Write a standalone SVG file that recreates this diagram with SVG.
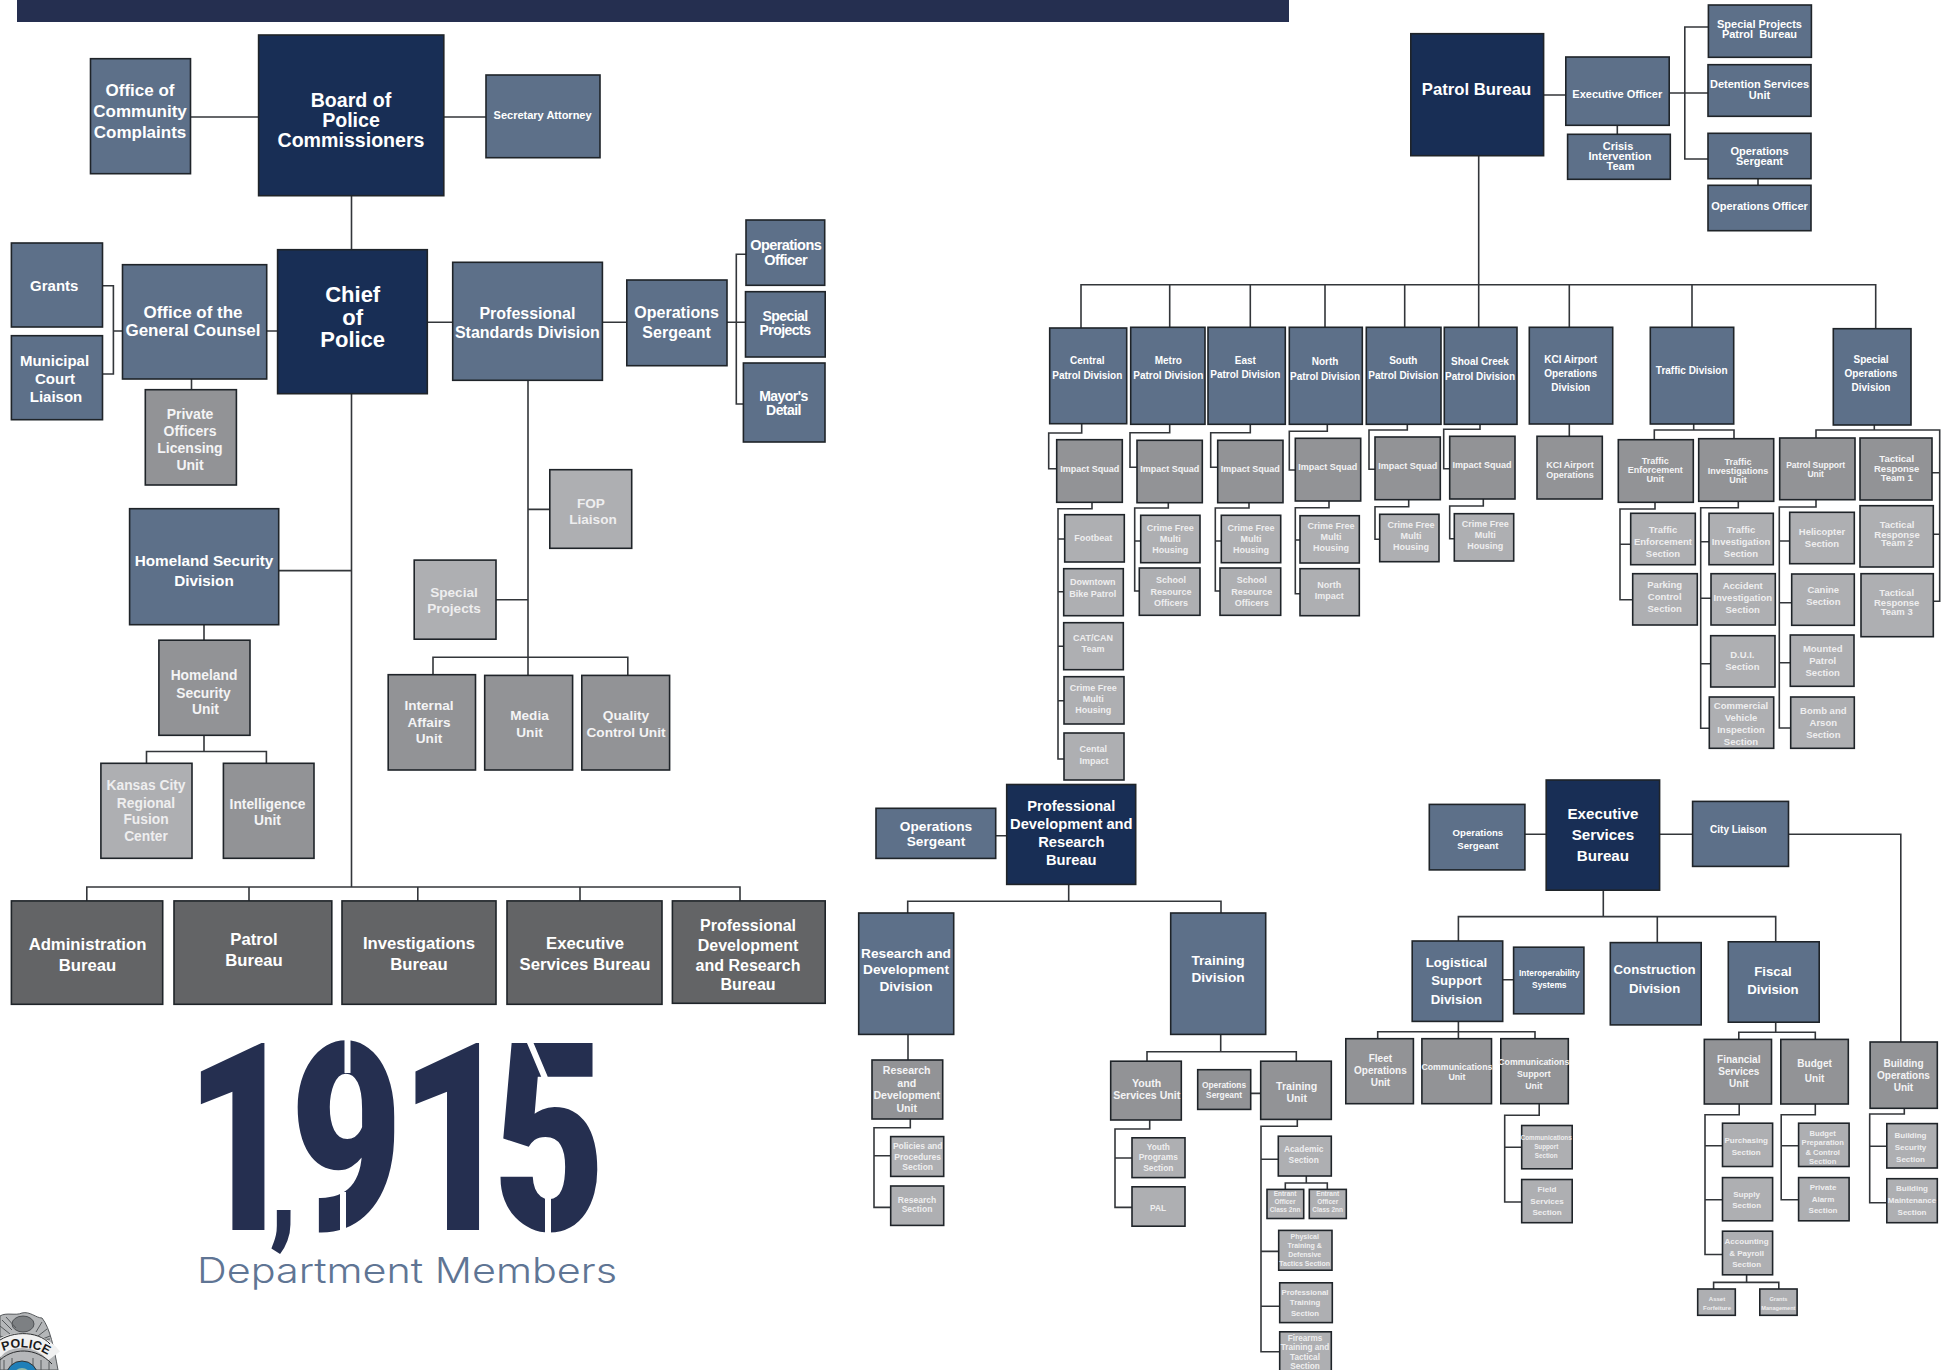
<svg xmlns="http://www.w3.org/2000/svg" width="1949" height="1370" viewBox="0 0 1949 1370">
<style>
rect{stroke:#1f2429;stroke-width:1.6}
.d{fill:#182e55}.m{fill:#5d7089}.g{fill:#929396}.l{fill:#aeafb2}.k{fill:#636466}
text{font-family:"Liberation Sans",Arial,sans-serif;font-weight:700;text-anchor:middle;fill:#fff}
.l+text{fill:#eeeeef}
.g+text{fill:#f4f4f5}
.tall{letter-spacing:-.55px}
#connectors path{fill:none;stroke:#33363a;stroke-width:1.6}
</style>
<rect x="17" y="0" width="1272" height="22" style="fill:#252f50;stroke:none"/>
<g id="connectors">
<path d="M190 117H259M444 117H486M351.5 196V250M351.5 394V887M86.8 901V887H740V901M249 887V901M417.8 887V901M580 887V901M279 570.6H351.5M204 625V640M204 735V751.5M146.5 763V751.5H266.4V763"/>
<path d="M267 331H278M427 322.3H453M602 322.3H627M727 322.3H745M746 254.3H736.3V404H743M102.5 285.7H113.4V374H102.5M113.4 331H122.5M191.5 379V390M528 380V675M528 509.4H550M496 599.7H528M433 675V657.2H627.8V675"/>
<path d="M1543.6 95H1566M1617.3 125V134.3M1669 93H1708M1708 27H1684.8V159H1708M1758 179V185.3M1478.7 156V328M1081 328V284.8H1875.7V329M1169.7 284.8V327M1250.3 284.8V327M1325 284.8V327M1404.7 284.8V327M1569.3 284.8V327M1692 284.8V327"/>
<path d="M1081.7 424V433H1048.7V468.7H1056.7M1169.7 424V432.7H1130V467.3H1137M1250.3 424V432.7H1210.7V467.3H1217.7M1327.3 424V431.3H1289.3V470H1295M1407.3 424V430H1369V469.3H1375M1480 424V429.3H1443.7V468.7H1449.7"/>
<path d="M1092 502V508.7H1058V759H1064M1058 539H1064.7M1058 591.7H1063.7M1058 646.3H1063.7M1058 700.7H1064"/>
<path d="M1168.3 503V508H1134.7V591H1139.3M1134.7 541H1140.7M1249 503V508H1215.3V591H1220M1215.3 541H1221.3M1329 501V507.7H1295.3V593.7H1300M1295.3 540H1300M1408.7 500V506.7H1375V539.3H1379.7M1483.3 499V506H1449.7V538.7H1454.3"/>
<path d="M1569.3 424V436.3M1693.7 424V430M1654.3 439.7V430H1734V438.7M1874.3 425V430M1816 438V430H1939.7V601.3H1933M1939.7 472.7H1932M1939.7 534.3H1933"/>
<path d="M1655 502V509H1620V599.7H1632.7M1620 544.3H1630.7M1738.3 501V507.7H1700.7V728.3H1709.3M1700.7 541.7H1709M1700.7 598.3H1711M1700.7 663.7H1710.7M1816 500V507H1779.3V728H1790.7M1779.3 541H1789.7M1779.3 602.7H1791.7M1779.3 662.7H1790.3"/>
<path d="M995.7 835.8H1006.7M1068.7 884V901.3M907.7 913V901.3H1221V913M908 1034V1060M910.3 1119V1127.8H874V1207.4H890.7M874 1155.8H890.7M1220.7 1034V1051.7M1147 1061.2V1051.7H1296.3V1061.2M1250.7 1093.4H1260.7M1149.7 1120V1129H1115V1207.4H1132M1115 1158H1132M1297.3 1119V1126.3H1261V1351.7H1279.7M1261 1159.2H1278.3M1261 1251.4H1278.7M1261 1306.2H1279.7M1306.3 1176V1183M1285.3 1189.4V1183H1327.3V1189.4"/>
<path d="M1525 834.3H1546M1660 834.3H1692.6M1788.5 834.3H1900.8V1042M1603.3 890V916.6M1458.4 941V916.6H1775.7V941.8M1657.3 916.6V942.6M1502.7 979.7H1513.6M1458.4 1021.4V1039M1377.7 1039V1031.8H1535V1039M1539.2 1104V1115.2H1504.7V1202H1521.7M1504.7 1147.3H1521.7"/>
<path d="M1775.7 1022V1032.2M1738.8 1039.4V1032.2H1815.3V1039.4M1739.2 1104V1114.8H1705V1254.5H1722.5M1705 1145.8H1722.5M1705 1199.8H1722.5M1815.3 1104V1114.8H1781.2V1199.8H1798.6M1781.2 1145.8H1798.6M1904.3 1108.3V1114H1869.7V1202.8H1886.8M1869.7 1146.2H1886.8M1746.6 1275V1282.4M1713.6 1289V1282.4H1778.8V1289"/>
</g>
<g id="board"><rect class="d" x="258.6" y="35" width="185.2" height="160.7"/><text font-size="19.6"><tspan x="351" y="107">Board of</tspan><tspan x="351" y="127.3">Police</tspan><tspan x="351" y="147.3">Commissioners</tspan></text></g>
<g id="occ"><rect class="m" x="90.5" y="58.7" width="100" height="115"/><text font-size="17"><tspan x="140" y="96">Office of</tspan><tspan x="140" y="117">Community</tspan><tspan x="140" y="138">Complaints</tspan></text></g>
<g id="secretary"><rect class="m" x="486" y="75" width="114" height="82.7"/><text font-size="11" x="542.6" y="119">Secretary Attorney</text></g>
<g id="chief"><rect class="d" x="277.6" y="249.7" width="149.7" height="144"/><text font-size="22"><tspan x="352.7" y="302">Chief</tspan><tspan x="352.7" y="324.5">of</tspan><tspan x="352.7" y="347">Police</tspan></text></g>
<g id="grants"><rect class="m" x="11.4" y="243" width="91.1" height="84"/><text font-size="15" x="54.3" y="290.5">Grants</text></g>
<g id="municipal"><rect class="m" x="11.4" y="335.7" width="91.1" height="84"/><text font-size="15"><tspan x="54.5" y="365.5">Municipal</tspan><tspan x="55" y="383.5">Court</tspan><tspan x="56" y="402">Liaison</tspan></text></g>
<g id="ogc"><rect class="m" x="122.5" y="264.7" width="144.2" height="114.3"/><text font-size="17"><tspan x="193" y="317.5">Office of the</tspan><tspan x="193" y="335.5">General Counsel</tspan></text></g>
<g id="private"><rect class="g" x="145.3" y="389.7" width="91.1" height="95.3"/><text font-size="14"><tspan x="190" y="418.5">Private</tspan><tspan x="190" y="435.5">Officers</tspan><tspan x="190" y="452.5">Licensing</tspan><tspan x="190" y="469.5">Unit</tspan></text></g>
<g id="psd"><rect class="m" x="452.7" y="262.3" width="149.7" height="118"/><text font-size="16"><tspan x="527.4" y="319.3">Professional</tspan><tspan x="527.4" y="338.3">Standards Division</tspan></text></g>
<g id="ops-sgt"><rect class="m" x="626.8" y="280" width="100.2" height="85.7"/><text font-size="16"><tspan x="676.6" y="318.3">Operations</tspan><tspan x="676.6" y="338.3">Sergeant</tspan></text></g>
<g id="ops-off"><rect class="m" x="746" y="220" width="78.7" height="65.3"/><text class="tall" font-size="14.5"><tspan x="785.7" y="250.3">Operations</tspan><tspan x="785.7" y="264.7">Officer</tspan></text></g>
<g id="spec-proj"><rect class="m" x="745.5" y="291.7" width="79.7" height="65.3"/><text class="tall" font-size="14"><tspan x="785" y="321">Special</tspan><tspan x="785" y="335.3">Projects</tspan></text></g>
<g id="mayor"><rect class="m" x="743.4" y="363" width="81.6" height="79"/><text class="tall" font-size="14"><tspan x="783.5" y="400.5">Mayor's</tspan><tspan x="783.5" y="414.5">Detail</tspan></text></g>
<g id="fop"><rect class="l" x="549.8" y="469.7" width="81.9" height="78.6"/><text font-size="13.6"><tspan x="590.9" y="507.9">FOP</tspan><tspan x="593" y="524.1">Liaison</tspan></text></g>
<g id="hsd"><rect class="m" x="129.6" y="508.7" width="149.1" height="116"/><text font-size="15.3"><tspan x="204" y="566">Homeland Security</tspan><tspan x="204" y="586.3">Division</tspan></text></g>
<g id="hsu"><rect class="g" x="158.9" y="640.2" width="91.1" height="95.1"/><text font-size="13.8"><tspan x="204" y="680.3">Homeland</tspan><tspan x="203.5" y="697.6">Security</tspan><tspan x="205.5" y="714.3">Unit</tspan></text></g>
<g id="kc"><rect class="l" x="100.9" y="763.3" width="91.1" height="95"/><text font-size="13.8"><tspan x="146" y="790.3">Kansas City</tspan><tspan x="146" y="807.6">Regional</tspan><tspan x="146" y="824.3">Fusion</tspan><tspan x="146" y="841">Center</tspan></text></g>
<g id="intel"><rect class="g" x="223.4" y="763.3" width="90.6" height="95"/><text font-size="13.8"><tspan x="267.5" y="808.6">Intelligence</tspan><tspan x="267.5" y="825.3">Unit</tspan></text></g>
<g id="sp-gray"><rect class="l" x="414.2" y="560.1" width="81.8" height="79.1"/><text font-size="13.6"><tspan x="454" y="596.6">Special</tspan><tspan x="454" y="613.4">Projects</tspan></text></g>
<g id="internal"><rect class="g" x="388.2" y="674.7" width="87.3" height="95.3"/><text font-size="13.6"><tspan x="429" y="710.2">Internal</tspan><tspan x="429" y="726.5">Affairs</tspan><tspan x="429" y="743.2">Unit</tspan></text></g>
<g id="media"><rect class="g" x="484.7" y="675.4" width="87.9" height="94.6"/><text font-size="13.6"><tspan x="529.5" y="720.4">Media</tspan><tspan x="529.5" y="737.1">Unit</tspan></text></g>
<g id="quality"><rect class="g" x="581.8" y="675.4" width="87.8" height="94.6"/><text font-size="13.7"><tspan x="626" y="720.4">Quality</tspan><tspan x="626" y="737.1">Control Unit</tspan></text></g>
<g id="b-admin"><rect class="k" x="11.4" y="900.9" width="151.3" height="103.4"/><text font-size="16.7"><tspan x="87.5" y="949.6">Administration</tspan><tspan x="87.5" y="970.5">Bureau</tspan></text></g>
<g id="b-patrol"><rect class="k" x="174" y="900.9" width="157.8" height="103.4"/><text font-size="16.7"><tspan x="254" y="944.5">Patrol</tspan><tspan x="254" y="965.5">Bureau</tspan></text></g>
<g id="b-invest"><rect class="k" x="342" y="900.9" width="154" height="103.4"/><text font-size="16.7"><tspan x="419" y="948.6">Investigations</tspan><tspan x="419" y="969.6">Bureau</tspan></text></g>
<g id="b-exec"><rect class="k" x="507" y="900.9" width="155" height="103.4"/><text font-size="16.7"><tspan x="585" y="948.6">Executive</tspan><tspan x="585" y="969.6">Services Bureau</tspan></text></g>
<g id="b-pdr"><rect class="k" x="672.4" y="900.9" width="152.8" height="102.4"/><text font-size="16"><tspan x="748" y="931.3">Professional</tspan><tspan x="748" y="950.6">Development</tspan><tspan x="748" y="970.9">and Research</tspan><tspan x="748" y="990.3">Bureau</tspan></text></g>

<g id="members">
<text id="count" transform="scale(.74 1)" font-size="263" style="font-family:Roboto,'Liberation Sans',sans-serif;font-weight:900;fill:#252f50;text-anchor:start"><tspan x="250" y="1230">1</tspan><tspan x="364" y="1227" font-size="140">,</tspan><tspan x="392" y="1230">9</tspan><tspan x="540" y="1230">1</tspan><tspan x="666" y="1230">5</tspan></text>
<path d="M347.5 1035V1073M343 1192V1236M548 1192V1236M529 1040L545 1078" fill="none" stroke="#fff" stroke-width="6"/>
<text font-size="35" x="197" y="1282.7" textLength="420" lengthAdjust="spacingAndGlyphs" style="font-family:Inter,'Open Sans',sans-serif;font-weight:300;text-anchor:start;fill:#5f7594">Department Members</text>
</g>
<g id="badge">
<path d="M0 1316C6 1312 16 1316 22 1313C30 1311 36 1318 42 1318C50 1328 54 1348 58 1370H0Z" fill="#b5b7b9" stroke="#55585b" stroke-width="1"/>
<ellipse cx="23" cy="1324" rx="11" ry="8" fill="#7d8083" stroke="#3c3f42" stroke-width=".8"/>
<path d="M2 1320L12 1330M6 1317L16 1328M0 1326L10 1334M42 1322L36 1332M47 1329L38 1336M50 1336L40 1340M0 1336C10 1341 34 1341 50 1339M4 1360V1370M12 1358V1370M33 1358V1370M41 1360V1370M49 1362V1370" fill="none" stroke="#55585b" stroke-width="1"/>
<path d="M-6 1353C6 1337 38 1335 54 1356" fill="none" stroke="#f1f1f1" stroke-width="15"/>
<path d="M-6 1345C8 1330 38 1330 50 1344M-2 1362C12 1347 36 1347 52 1364" fill="none" stroke="#2a2c2e" stroke-width="1"/>
<path id="badge-arc" d="M-6 1357C8 1344 38 1343 56 1362" fill="none"/>
<text font-size="12.5" style="fill:#1a1a1a"><textPath href="#badge-arc" startOffset="50%">POLICE</textPath></text>
<circle cx="22" cy="1377" r="16" fill="#1f7fb8" stroke="#333" stroke-width="1"/>
<circle cx="22" cy="1377" r="9" fill="#8fb7a5"/>
</g>

<g id="patrol-bureau"><rect class="d" x="1410.8" y="33.7" width="132.8" height="122"/><text font-size="16.7" x="1476.5" y="95">Patrol Bureau</text></g>
<g id="pb-eo"><rect class="m" x="1565.8" y="57" width="103.4" height="68.3"/><text font-size="11" x="1617.3" y="98.3">Executive Officer</text></g>
<g id="pb-cit"><rect class="m" x="1567.6" y="134.3" width="102.7" height="45"/><text font-size="11"><tspan x="1618" y="150.3">Crisis</tspan><tspan x="1620" y="160.3">Intervention</tspan><tspan x="1620.5" y="170.3">Team</tspan></text></g>
<g id="pb-sp"><rect class="m" x="1708.4" y="5" width="103" height="52.3"/><text font-size="11"><tspan x="1759.5" y="28.3">Special Projects</tspan><tspan x="1759.5" y="38.3">Patrol&#160; Bureau</tspan></text></g>
<g id="pb-det"><rect class="m" x="1708" y="64.7" width="103" height="51.6"/><text font-size="11"><tspan x="1759.5" y="88.3">Detention Services</tspan><tspan x="1759.5" y="99.3">Unit</tspan></text></g>
<g id="pb-os"><rect class="m" x="1708" y="133.3" width="103" height="45.4"/><text font-size="11"><tspan x="1759.5" y="154.7">Operations</tspan><tspan x="1759.5" y="165.3">Sergeant</tspan></text></g>
<g id="pb-oo"><rect class="m" x="1708" y="185.3" width="103" height="45.4"/><text font-size="11" x="1759.5" y="210.3">Operations Officer</text></g>

<g id="d-central"><rect class="m" x="1049.7" y="328" width="77" height="95.7"/><text font-size="10"><tspan x="1087.3" y="363.5">Central</tspan><tspan x="1087.3" y="378.5">Patrol Division</tspan></text></g>
<g id="d-metro"><rect class="m" x="1130.7" y="327.3" width="74.3" height="97"/><text font-size="10"><tspan x="1168.3" y="364">Metro</tspan><tspan x="1168.3" y="378.5">Patrol Division</tspan></text></g>
<g id="d-east"><rect class="m" x="1208" y="327.3" width="77.3" height="97"/><text font-size="10"><tspan x="1245.3" y="363.5">East</tspan><tspan x="1245.3" y="377.5">Patrol Division</tspan></text></g>
<g id="d-north"><rect class="m" x="1289.3" y="327.3" width="73" height="97"/><text font-size="10"><tspan x="1325" y="365">North</tspan><tspan x="1325" y="379.5">Patrol Division</tspan></text></g>
<g id="d-south"><rect class="m" x="1366.3" y="327.3" width="74.7" height="97"/><text font-size="10"><tspan x="1403.3" y="364">South</tspan><tspan x="1403.3" y="378.5">Patrol Division</tspan></text></g>
<g id="d-shoal"><rect class="m" x="1444.3" y="327.3" width="72.7" height="97"/><text font-size="10"><tspan x="1480" y="365">Shoal Creek</tspan><tspan x="1480" y="379.5">Patrol Division</tspan></text></g>
<g id="d-kci"><rect class="m" x="1529.3" y="327.3" width="83.4" height="96.7"/><text font-size="10"><tspan x="1570.7" y="362.5">KCI Airport</tspan><tspan x="1570.7" y="376.5">Operations</tspan><tspan x="1570.7" y="390.5">Division</tspan></text></g>
<g id="d-traffic"><rect class="m" x="1650.3" y="327.3" width="83.4" height="96.7"/><text font-size="10" x="1691.7" y="373.5">Traffic Division</text></g>
<g id="d-specops"><rect class="m" x="1833.3" y="328.7" width="77.7" height="96.3"/><text font-size="10"><tspan x="1871" y="362.5">Special</tspan><tspan x="1871" y="376.5">Operations</tspan><tspan x="1871" y="390.5">Division</tspan></text></g>

<g id="is-central"><rect class="g" x="1056.7" y="439.7" width="65.6" height="62.6"/><text font-size="9" x="1089.7" y="472">Impact Squad</text></g>
<g id="is-metro"><rect class="g" x="1137" y="440.3" width="65.3" height="62.4"/><text font-size="9" x="1169.7" y="472">Impact Squad</text></g>
<g id="is-east"><rect class="g" x="1217.7" y="440.3" width="65.3" height="62.4"/><text font-size="9" x="1250.3" y="472">Impact Squad</text></g>
<g id="is-north"><rect class="g" x="1295.3" y="438.3" width="65.4" height="62.7"/><text font-size="9" x="1327.7" y="470">Impact Squad</text></g>
<g id="is-south"><rect class="g" x="1375" y="437" width="65.3" height="62.7"/><text font-size="9" x="1407.7" y="469">Impact Squad</text></g>
<g id="is-shoal"><rect class="g" x="1449.7" y="436.3" width="65.3" height="62.7"/><text font-size="9" x="1482" y="468">Impact Squad</text></g>

<g id="c-foot"><rect class="l" x="1064.7" y="514.7" width="59.6" height="47.3"/><text font-size="9" x="1093.3" y="541">Footbeat</text></g>
<g id="c-bike"><rect class="l" x="1063.7" y="568.7" width="59.6" height="47"/><text font-size="9"><tspan x="1092.7" y="585">Downtown</tspan><tspan x="1092.7" y="597">Bike Patrol</tspan></text></g>
<g id="c-cat"><rect class="l" x="1063.7" y="622.7" width="59.6" height="47"/><text font-size="9"><tspan x="1093" y="641">CAT/CAN</tspan><tspan x="1093" y="652">Team</tspan></text></g>
<g id="c-cf"><rect class="l" x="1064" y="676.7" width="60" height="47.3"/><text font-size="9"><tspan x="1093.3" y="691">Crime Free</tspan><tspan x="1093.3" y="702">Multi</tspan><tspan x="1093.3" y="713">Housing</tspan></text></g>
<g id="c-imp"><rect class="l" x="1064" y="733" width="60" height="47"/><text font-size="9"><tspan x="1093.3" y="752">Cental</tspan><tspan x="1094" y="764">Impact</tspan></text></g>
<g id="m-cf"><rect class="l" x="1140.7" y="515.3" width="59.3" height="47.4"/><text font-size="9"><tspan x="1170.3" y="531">Crime Free</tspan><tspan x="1170.3" y="542">Multi</tspan><tspan x="1170.3" y="553">Housing</tspan></text></g>
<g id="m-sch"><rect class="l" x="1139.3" y="568" width="60.7" height="47.3"/><text font-size="9"><tspan x="1171" y="583">School</tspan><tspan x="1171" y="595">Resource</tspan><tspan x="1171" y="606">Officers</tspan></text></g>
<g id="e-cf"><rect class="l" x="1221.3" y="515.3" width="59.4" height="47.4"/><text font-size="9"><tspan x="1251" y="531">Crime Free</tspan><tspan x="1251" y="542">Multi</tspan><tspan x="1251" y="553">Housing</tspan></text></g>
<g id="e-sch"><rect class="l" x="1220" y="568" width="60.7" height="47.3"/><text font-size="9"><tspan x="1251.7" y="583">School</tspan><tspan x="1251.7" y="595">Resource</tspan><tspan x="1251.7" y="606">Officers</tspan></text></g>
<g id="n-cf"><rect class="l" x="1300" y="515.7" width="59.3" height="47.3"/><text font-size="9"><tspan x="1331" y="529">Crime Free</tspan><tspan x="1331" y="540">Multi</tspan><tspan x="1331" y="551">Housing</tspan></text></g>
<g id="n-imp"><rect class="l" x="1300" y="568.7" width="59.3" height="47"/><text font-size="9"><tspan x="1329.3" y="588">North</tspan><tspan x="1329.3" y="599">Impact</tspan></text></g>
<g id="s-cf"><rect class="l" x="1379.7" y="514.3" width="59.3" height="47.4"/><text font-size="9"><tspan x="1411" y="528">Crime Free</tspan><tspan x="1411" y="539">Multi</tspan><tspan x="1411" y="550">Housing</tspan></text></g>
<g id="sc-cf"><rect class="l" x="1454.3" y="513.7" width="59.4" height="47.3"/><text font-size="9"><tspan x="1485.3" y="527">Crime Free</tspan><tspan x="1485.3" y="538">Multi</tspan><tspan x="1485.3" y="549">Housing</tspan></text></g>

<g id="kci-ops"><rect class="g" x="1537" y="436.3" width="65.3" height="62.7"/><text font-size="9"><tspan x="1570" y="468">KCI Airport</tspan><tspan x="1570" y="478">Operations</tspan></text></g>
<g id="teu"><rect class="g" x="1618.3" y="439.7" width="75" height="62.6"/><text font-size="9"><tspan x="1655.3" y="464">Traffic</tspan><tspan x="1655.3" y="473">Enforcement</tspan><tspan x="1655.3" y="482">Unit</tspan></text></g>
<g id="tiu"><rect class="g" x="1698.7" y="438.7" width="75" height="62.6"/><text font-size="9"><tspan x="1738" y="465">Traffic</tspan><tspan x="1738" y="474">Investigations</tspan><tspan x="1738" y="483">Unit</tspan></text></g>
<g id="psu"><rect class="g" x="1779.7" y="438" width="75.3" height="61.7"/><text font-size="8.5"><tspan x="1815.7" y="468">Patrol Support</tspan><tspan x="1815.7" y="477">Unit</tspan></text></g>
<g id="trt1"><rect class="g" x="1860" y="438" width="72" height="62"/><text font-size="9.5"><tspan x="1896.7" y="462">Tactical</tspan><tspan x="1896.7" y="472">Response</tspan><tspan x="1896.7" y="481">Team 1</tspan></text></g>
<g id="trt2"><rect class="l" x="1860" y="505.7" width="73.3" height="61.3"/><text font-size="9.5"><tspan x="1897" y="528">Tactical</tspan><tspan x="1897" y="537.5">Response</tspan><tspan x="1897" y="546">Team 2</tspan></text></g>
<g id="trt3"><rect class="l" x="1861" y="573.7" width="72.3" height="63"/><text font-size="9.5"><tspan x="1896.7" y="596">Tactical</tspan><tspan x="1896.7" y="605.5">Response</tspan><tspan x="1896.7" y="615">Team 3</tspan></text></g>
<g id="te-sec"><rect class="l" x="1630.7" y="513.3" width="64.6" height="51.4"/><text font-size="9.5"><tspan x="1663" y="533">Traffic</tspan><tspan x="1663" y="545">Enforcement</tspan><tspan x="1663" y="557">Section</tspan></text></g>
<g id="parking"><rect class="l" x="1632.7" y="573.7" width="64.6" height="51.3"/><text font-size="9.5"><tspan x="1664.7" y="588">Parking</tspan><tspan x="1664.7" y="600">Control</tspan><tspan x="1664.7" y="612">Section</tspan></text></g>
<g id="ti-sec"><rect class="l" x="1709" y="513.3" width="64.3" height="51.4"/><text font-size="9.5"><tspan x="1741" y="533">Traffic</tspan><tspan x="1741" y="545">Investigation</tspan><tspan x="1741" y="557">Section</tspan></text></g>
<g id="accident"><rect class="l" x="1711" y="573.7" width="64.3" height="51.3"/><text font-size="9.5"><tspan x="1742.7" y="589">Accident</tspan><tspan x="1742.7" y="601">Investigation</tspan><tspan x="1742.7" y="613">Section</tspan></text></g>
<g id="dui"><rect class="l" x="1710.7" y="635.7" width="64.3" height="51.3"/><text font-size="9.5"><tspan x="1742.3" y="658">D.U.I.</tspan><tspan x="1742.3" y="670">Section</tspan></text></g>
<g id="cvi"><rect class="l" x="1709.3" y="697" width="64.4" height="51.3"/><text font-size="9.5"><tspan x="1741" y="709">Commercial</tspan><tspan x="1741" y="721">Vehicle</tspan><tspan x="1741" y="733">Inspection</tspan><tspan x="1741" y="745">Section</tspan></text></g>
<g id="heli"><rect class="l" x="1789.7" y="512.3" width="64.6" height="51.4"/><text font-size="9.5"><tspan x="1822" y="535">Helicopter</tspan><tspan x="1822" y="547">Section</tspan></text></g>
<g id="canine"><rect class="l" x="1791.7" y="574" width="62.6" height="51.3"/><text font-size="9.5"><tspan x="1823.3" y="593">Canine</tspan><tspan x="1823.3" y="605">Section</tspan></text></g>
<g id="mounted"><rect class="l" x="1790.3" y="635" width="63.7" height="51.3"/><text font-size="9.5"><tspan x="1822.7" y="652">Mounted</tspan><tspan x="1822.7" y="664">Patrol</tspan><tspan x="1822.7" y="676">Section</tspan></text></g>
<g id="bomb"><rect class="l" x="1790.7" y="697" width="63.6" height="51.3"/><text font-size="9.5"><tspan x="1823.3" y="714">Bomb and</tspan><tspan x="1823.3" y="726">Arson</tspan><tspan x="1823.3" y="738">Section</tspan></text></g>

<g id="pdr-bureau"><rect class="d" x="1006.7" y="784.5" width="129" height="99.9"/><text font-size="14.7"><tspan x="1071.3" y="810.6">Professional</tspan><tspan x="1071.3" y="828.6">Development and</tspan><tspan x="1071.3" y="846.6">Research</tspan><tspan x="1071.3" y="864.6">Bureau</tspan></text></g>
<g id="pdr-os"><rect class="m" x="876" y="808.3" width="119.7" height="50.1"/><text font-size="13.7"><tspan x="936" y="831">Operations</tspan><tspan x="936" y="846">Sergeant</tspan></text></g>
<g id="rd-div"><rect class="m" x="858.7" y="913" width="95" height="121.4"/><text font-size="13.7"><tspan x="906" y="958">Research and</tspan><tspan x="906" y="974">Development</tspan><tspan x="906" y="991">Division</tspan></text></g>
<g id="tr-div"><rect class="m" x="1170.7" y="913" width="95" height="121.4"/><text font-size="13.7"><tspan x="1218" y="965">Training</tspan><tspan x="1218" y="982">Division</tspan></text></g>
<g id="rd-unit"><rect class="g" x="872" y="1060" width="70.7" height="59"/><text font-size="10.6"><tspan x="906.7" y="1074">Research</tspan><tspan x="906.7" y="1087">and</tspan><tspan x="906.7" y="1099">Development</tspan><tspan x="906.7" y="1112">Unit</tspan></text></g>
<g id="policies"><rect class="l" x="890.7" y="1136.6" width="53" height="39.8"/><text font-size="8.5"><tspan x="917.7" y="1149">Policies and</tspan><tspan x="917.7" y="1160">Procedures</tspan><tspan x="917.7" y="1170">Section</tspan></text></g>
<g id="research-sec"><rect class="l" x="890.7" y="1186" width="53" height="39.4"/><text font-size="8.5"><tspan x="917" y="1203">Research</tspan><tspan x="917" y="1212">Section</tspan></text></g>
<g id="youth"><rect class="g" x="1110.7" y="1061.2" width="70.6" height="58.8"/><text font-size="10.6"><tspan x="1146.7" y="1087">Youth</tspan><tspan x="1146.7" y="1099">Services Unit</tspan></text></g>
<g id="tr-os"><rect class="g" x="1197.7" y="1069.7" width="53" height="39.7"/><text font-size="8.4"><tspan x="1224" y="1088">Operations</tspan><tspan x="1224" y="1098">Sergeant</tspan></text></g>
<g id="tr-unit"><rect class="g" x="1260.7" y="1061.2" width="70.6" height="58.2"/><text font-size="10.6"><tspan x="1296.7" y="1089.5">Training</tspan><tspan x="1296.7" y="1102">Unit</tspan></text></g>
<g id="yp"><rect class="l" x="1132" y="1137.8" width="53" height="39.8"/><text font-size="8.4"><tspan x="1158.3" y="1150">Youth</tspan><tspan x="1158.3" y="1160">Programs</tspan><tspan x="1158.3" y="1171">Section</tspan></text></g>
<g id="pal"><rect class="l" x="1132" y="1186.8" width="53" height="39.4"/><text font-size="8.4" x="1158" y="1211">PAL</text></g>
<g id="academic"><rect class="l" x="1278.3" y="1136.2" width="53" height="39.8"/><text font-size="8.4"><tspan x="1303.7" y="1152">Academic</tspan><tspan x="1303.7" y="1163">Section</tspan></text></g>
<g id="entrant1"><rect class="l" x="1267" y="1189.4" width="36.7" height="29.1"/><text font-size="6.5"><tspan x="1285" y="1196">Entrant</tspan><tspan x="1285" y="1204">Officer</tspan><tspan x="1285" y="1212">Class 2nn</tspan></text></g>
<g id="entrant2"><rect class="l" x="1309.3" y="1189.4" width="37" height="29.1"/><text font-size="6.5"><tspan x="1327.7" y="1196">Entrant</tspan><tspan x="1327.7" y="1204">Officer</tspan><tspan x="1327.7" y="1212">Class 2nn</tspan></text></g>
<g id="physical"><rect class="l" x="1278.7" y="1230.4" width="53.3" height="39.8"/><text font-size="7"><tspan x="1304.7" y="1238.5">Physical</tspan><tspan x="1304.7" y="1247.7">Training &amp;</tspan><tspan x="1304.7" y="1257.3">Defensive</tspan><tspan x="1304.7" y="1266.4">Tactics Section</tspan></text></g>
<g id="prof-tr"><rect class="l" x="1279.7" y="1282.8" width="52.6" height="39.8"/><text font-size="7.8"><tspan x="1305" y="1295">Professional</tspan><tspan x="1305" y="1305">Training</tspan><tspan x="1305" y="1315.5">Section</tspan></text></g>
<g id="firearms"><rect class="l" x="1279.7" y="1331.8" width="51.6" height="44"/><text font-size="8.2"><tspan x="1305" y="1341">Firearms</tspan><tspan x="1305" y="1350">Training and</tspan><tspan x="1305" y="1360">Tactical</tspan><tspan x="1305" y="1369">Section</tspan></text></g>

<g id="esb"><rect class="d" x="1546.2" y="780" width="113.4" height="110.2"/><text font-size="15.2"><tspan x="1602.9" y="818.7">Executive</tspan><tspan x="1602.9" y="839.8">Services</tspan><tspan x="1602.9" y="860.8">Bureau</tspan></text></g>
<g id="esb-os"><rect class="m" x="1429.3" y="804.4" width="95.6" height="65.5"/><text font-size="9.6"><tspan x="1477.9" y="836">Operations</tspan><tspan x="1477.9" y="849">Sergeant</tspan></text></g>
<g id="city"><rect class="m" x="1692.6" y="801.4" width="95.9" height="65"/><text font-size="10" x="1738.4" y="833">City Liaison</text></g>
<g id="logistical"><rect class="m" x="1412.2" y="941" width="90.5" height="80.4"/><text font-size="13.2"><tspan x="1456.5" y="966.5">Logistical</tspan><tspan x="1456.5" y="985">Support</tspan><tspan x="1456.5" y="1003.5">Division</tspan></text></g>
<g id="interop"><rect class="m" x="1513.6" y="947.2" width="70.3" height="66.6"/><text font-size="8.4"><tspan x="1549.3" y="976">Interoperability</tspan><tspan x="1549.3" y="988">Systems</tspan></text></g>
<g id="construction"><rect class="m" x="1610.3" y="942.6" width="90.9" height="82.3"/><text font-size="13.2"><tspan x="1654.6" y="973.5">Construction</tspan><tspan x="1654.6" y="993">Division</tspan></text></g>
<g id="fiscal"><rect class="m" x="1728.3" y="941.8" width="90.9" height="80.4"/><text font-size="13.2"><tspan x="1773" y="975.5">Fiscal</tspan><tspan x="1773" y="993.5">Division</tspan></text></g>
<g id="fleet"><rect class="g" x="1345.8" y="1038.7" width="67.6" height="65"/><text font-size="10"><tspan x="1380.4" y="1062">Fleet</tspan><tspan x="1380.4" y="1074">Operations</tspan><tspan x="1380.4" y="1086">Unit</tspan></text></g>
<g id="comm"><rect class="g" x="1421.9" y="1038.7" width="69.6" height="65"/><text font-size="8.75"><tspan x="1456.9" y="1070">Communications</tspan><tspan x="1456.9" y="1080">Unit</tspan></text></g>
<g id="comm-sup"><rect class="g" x="1500.8" y="1038.7" width="67.5" height="65"/><text font-size="8.75"><tspan x="1533.8" y="1065">Communications</tspan><tspan x="1533.8" y="1077">Support</tspan><tspan x="1533.8" y="1089">Unit</tspan></text></g>
<g id="cs-sec"><rect class="l" x="1521.7" y="1125.5" width="50.5" height="43.3"/><text font-size="6.3"><tspan x="1546.2" y="1139.5">Communications</tspan><tspan x="1546.2" y="1148.7">Support</tspan><tspan x="1546.2" y="1158">Section</tspan></text></g>
<g id="field"><rect class="l" x="1521.7" y="1179.5" width="50.5" height="43.2"/><text font-size="8.1"><tspan x="1547" y="1192">Field</tspan><tspan x="1547" y="1204">Services</tspan><tspan x="1547" y="1215">Section</tspan></text></g>
<g id="financial"><rect class="g" x="1704.3" y="1039.4" width="67.2" height="64.6"/><text font-size="10"><tspan x="1738.8" y="1063">Financial</tspan><tspan x="1738.8" y="1075">Services</tspan><tspan x="1738.8" y="1087">Unit</tspan></text></g>
<g id="budget"><rect class="g" x="1780.8" y="1039.4" width="67.5" height="64.6"/><text font-size="10"><tspan x="1814.6" y="1067">Budget</tspan><tspan x="1814.6" y="1082">Unit</tspan></text></g>
<g id="purchasing"><rect class="l" x="1722.5" y="1123.2" width="50.1" height="43.3"/><text font-size="8"><tspan x="1746.2" y="1143">Purchasing</tspan><tspan x="1746.2" y="1155">Section</tspan></text></g>
<g id="supply"><rect class="l" x="1722.5" y="1177.6" width="50.1" height="43.2"/><text font-size="8"><tspan x="1746.6" y="1196.5">Supply</tspan><tspan x="1746.6" y="1208">Section</tspan></text></g>
<g id="accounting"><rect class="l" x="1722.5" y="1231.2" width="50.1" height="43.6"/><text font-size="8"><tspan x="1746.6" y="1244">Accounting</tspan><tspan x="1746.6" y="1256">&amp; Payroll</tspan><tspan x="1746.6" y="1267">Section</tspan></text></g>
<g id="budget-prep"><rect class="l" x="1798.6" y="1123.2" width="50.5" height="43.3"/><text font-size="7.6"><tspan x="1822.7" y="1135.5">Budget</tspan><tspan x="1822.7" y="1145">Preparation</tspan><tspan x="1822.7" y="1154.7">&amp; Control</tspan><tspan x="1822.7" y="1164">Section</tspan></text></g>
<g id="alarm"><rect class="l" x="1798.6" y="1177.6" width="50.5" height="43.2"/><text font-size="8"><tspan x="1823" y="1190">Private</tspan><tspan x="1823" y="1202">Alarm</tspan><tspan x="1823" y="1213">Section</tspan></text></g>
<g id="building"><rect class="g" x="1870.1" y="1042" width="67.2" height="66.3"/><text font-size="10"><tspan x="1903.5" y="1067">Building</tspan><tspan x="1903.5" y="1079">Operations</tspan><tspan x="1903.5" y="1091">Unit</tspan></text></g>
<g id="security"><rect class="l" x="1886.8" y="1123.6" width="50.5" height="44.4"/><text font-size="8"><tspan x="1910.5" y="1138">Building</tspan><tspan x="1910.5" y="1150">Security</tspan><tspan x="1910.5" y="1162">Section</tspan></text></g>
<g id="maint"><rect class="l" x="1886.8" y="1178.7" width="50.5" height="44"/><text font-size="8"><tspan x="1912" y="1191">Building</tspan><tspan x="1912" y="1203">Maintenance</tspan><tspan x="1912" y="1215">Section</tspan></text></g>
<g id="asset"><rect class="l" x="1697.7" y="1289" width="37.6" height="26.3"/><text font-size="6"><tspan x="1717" y="1301">Asset</tspan><tspan x="1717" y="1310">Forfeiture</tspan></text></g>
<g id="grants-mgmt"><rect class="l" x="1759.8" y="1289" width="37.3" height="26.3"/><text font-size="5.6"><tspan x="1778.4" y="1301">Grants</tspan><tspan x="1778.4" y="1310">Management</tspan></text></g>
</svg>
